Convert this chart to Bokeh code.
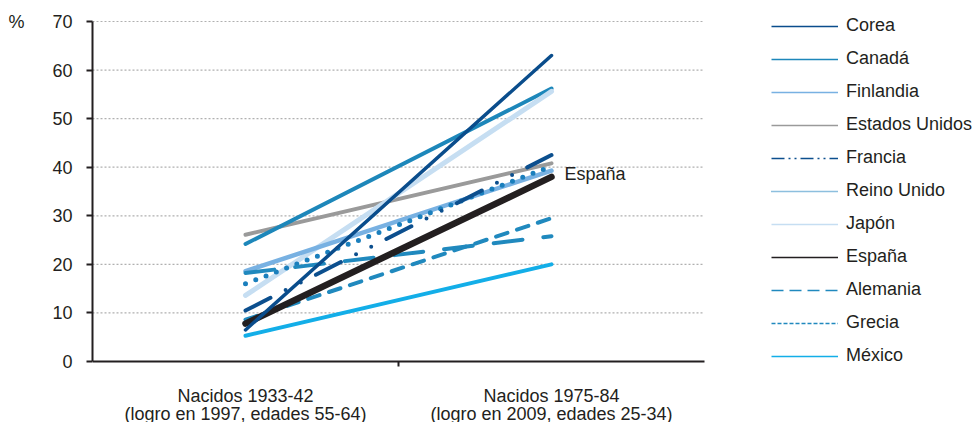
import numpy as np
from bokeh.plotting import figure
from bokeh.models import FixedTicker, Legend, LegendItem, LinearAxis
from bokeh.core.properties import value
from bokeh.embed import file_html
from bokeh.resources import INLINE

# ---------------- data ----------------
categories = ["Nacidos 1933-42\n(logro en 1997, edades 55-64)",
              "Nacidos 1975-84\n(logro en 2009, edades 25-34)"]
countries = ["Corea", "Canadá", "Finlandia", "Estados Unidos", "Francia",
             "Reino Unido", "Japón", "España", "Alemania", "Grecia", "México"]
born_1933_42 = [6.5, 24.2, 18.6, 26.1, 10.5, 16.0, 13.6, 7.8, 8.6, 18.2, 5.3]
born_1975_84 = [63.0, 56.2, 39.3, 40.8, 42.5, 40.2, 55.6, 38.0, 29.5, 25.8, 20.0]
y_ticks = [0, 10, 20, 30, 40, 50, 60, 70]
unit_label = "%"

# ---------------- styles / layout ----------------
colors = ["#0a4d8c", "#1d87ba", "#78b1e2", "#9a9a9a", "#0c4f8e",
          "#1a7fbd", "#c6def2", "#231f20", "#2089be", "#2089be", "#13aee8"]
widths = [3.5, 4, 4.5, 4, 4, 5, 5, 6.5, 4, 4, 4]
dashes = ["solid", "solid", "solid", "solid", "28 17 0 17 0 17",
          "0 11", "solid", "solid", "12 10", "29 21", "solid"]
legend_dashes = ["solid", "solid", "solid", "solid", "13 4 2 4 2 4",
                 "1 1", "solid", "solid", "12 6", "4 2", "solid"]
draw_order = [3, 1, 6, 2, 5, 9, 8, 10, 7, 4, 0]

FONT = "Liberation Sans"
TXT = "#231f20"
W, H = 977, 422
LEFT = 92            # plot area left edge (px)
PLOT_W = 612         # width of the axes area (px)
TOP = 21             # y of top tick (px)
PLOT_H = 340         # height of the axes area (px)

n_cat = len(categories)
xs = np.arange(n_cat) + 0.5
ymax = y_ticks[-1]
px_x = PLOT_W / n_cat
px_y = PLOT_H / ymax
x_end = n_cat + (W - LEFT - PLOT_W) / px_x
y_start = -(H - TOP - PLOT_H) / px_y
y_end = ymax + TOP / px_y

p = figure(width=W, height=H, output_backend="svg", toolbar_location=None,
           x_range=(0, x_end), y_range=(y_start, y_end),
           min_border_left=LEFT, min_border_right=0, min_border_top=0,
           min_border_bottom=0)
p.outline_line_color = None
p.background_fill_color = "white"
p.border_fill_color = "white"
p.grid.visible = False

# y axis
p.yaxis.ticker = FixedTicker(ticks=y_ticks)
p.yaxis.bounds = (0, ymax)
p.yaxis.major_label_text_font = FONT
p.yaxis.major_label_text_font_size = "18px"
p.yaxis.major_label_text_color = TXT
p.yaxis.axis_line_color = TXT
p.yaxis.axis_line_width = 2
p.yaxis.major_tick_line_color = TXT
p.yaxis.major_tick_line_width = 2
p.yaxis.major_tick_in = 0
p.yaxis.major_tick_out = 6
p.yaxis.minor_tick_line_color = None
p.yaxis.major_label_standoff = 14

# unit label as an extra left axis
ua = LinearAxis(ticker=FixedTicker(ticks=[ymax]),
                major_label_overrides={ymax: unit_label},
                axis_line_color=None, major_tick_line_color=None,
                minor_tick_line_color=None, major_tick_out=0, major_tick_in=0,
                major_label_standoff=25, major_label_text_font=FONT,
                major_label_text_font_size="18px", major_label_text_color=TXT)
p.add_layout(ua, "left")

# x axis (fixed at y = 0)
p.xaxis.fixed_location = 0
p.xaxis.bounds = (0, n_cat)
p.xaxis.ticker = FixedTicker(ticks=list(xs), minor_ticks=[1.0])
p.xaxis.major_label_overrides = {float(x): c for x, c in zip(xs, categories)}
p.xaxis.axis_line_color = TXT
p.xaxis.axis_line_width = 2
p.xaxis.major_tick_line_color = None
p.xaxis.major_tick_out = 0
p.xaxis.major_tick_in = 0
p.xaxis.minor_tick_line_color = TXT
p.xaxis.minor_tick_line_width = 2
p.xaxis.minor_tick_in = 0
p.xaxis.minor_tick_out = 5
p.xaxis.major_label_standoff = 19
p.xaxis.major_label_text_font = FONT
p.xaxis.major_label_text_font_size = "18px"
p.xaxis.major_label_text_color = TXT
p.xaxis.major_label_text_line_height = 0.9

# grid lines limited to the axes area
grid_ticks = y_ticks[1:]
p.segment(x0=[0] * len(grid_ticks), x1=[n_cat] * len(grid_ticks),
          y0=grid_ticks, y1=grid_ticks, line_color="#b0b0b0",
          line_dash="2 2", line_width=1.2)

# lines
for i in draw_order:
    p.line(x=xs, y=[born_1933_42[i], born_1975_84[i]], line_color=colors[i],
           line_width=widths[i], line_dash=dashes[i], line_cap="round")

# legend with thin sample lines
items = []
for i, name in enumerate(countries):
    r = p.line(x=xs, y=[np.nan, np.nan], line_color=colors[i], line_width=1.5,
               line_dash=legend_dashes[i])
    items.append(LegendItem(label=name, renderers=[r]))
legend = Legend(items=items, location=(679, 56), padding=0, margin=0,
                spacing=12, glyph_width=67, glyph_height=20, label_height=20,
                label_standoff=8, label_text_font=FONT, label_text_font_size="18px",
                label_text_color=TXT, border_line_color=None,
                background_fill_alpha=0)
p.add_layout(legend, "center")

# España label
p.text(x=[xs[-1]], y=[born_1975_84[countries.index("España")]], text=["España"],
       x_offset=13, y_offset=-3, text_baseline="middle", text_align="left",
       text_font=value(FONT), text_font_size="18px", text_color=TXT)

open("out.html", "w").write(file_html(p, INLINE))
